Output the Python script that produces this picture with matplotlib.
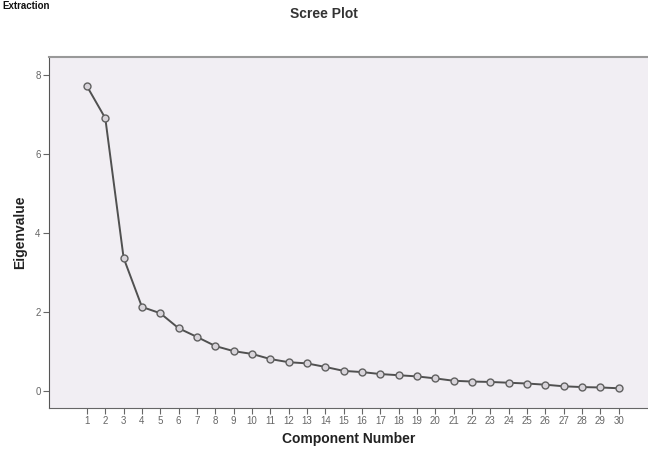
import numpy as np
import matplotlib.pyplot as plt

# eigenvalues
componentes = list(range(1, 31))
autovalores = [7.72, 6.91, 3.37, 2.13, 1.97, 1.59, 1.37, 1.14, 1.01, 0.94,
               0.81, 0.73, 0.70, 0.61, 0.51, 0.48, 0.43, 0.40, 0.37, 0.32,
               0.26, 0.24, 0.23, 0.21, 0.19, 0.16, 0.12, 0.10, 0.09, 0.07]
y_ticks = [0, 2, 4, 6, 8]

plt.rcParams["font.family"] = ["Liberation Sans", "DejaVu Sans"]

fig = plt.figure(figsize=(6.48, 4.54), dpi=100)
ax = fig.add_axes([49 / 648, 1 - 408 / 454, 1 - 49 / 648, (408 - 57) / 454])
ax.set_facecolor("#f1eef3")

ax.plot(
    componentes,
    autovalores,
    color="#505050",
    linewidth=1.4,
    marker="o",
    markersize=5,
    markerfacecolor="#d8d4da",
    markeredgecolor="#606060",
    markeredgewidth=1.0
)

ax.set_xlim(-1.07, 31.6)
ax.set_ylim(-0.43, 8.46)
ax.set_xticks(componentes)
ax.set_yticks(y_ticks)
ax.tick_params(axis="both", labelsize=7, colors="#666666",
               length=4, width=0.8, direction="out", pad=2)

ax.spines["right"].set_visible(False)
ax.spines["top"].set_color("#999999")
ax.spines["top"].set_linewidth(1.5)
ax.spines["left"].set_color("#555555")
ax.spines["bottom"].set_color("#666666")

ax.set_xlabel("Component Number", fontsize=10, fontweight="bold",
              color="#222222", labelpad=4)
ax.set_ylabel("Eigenvalue", fontsize=10, fontweight="bold",
              color="#222222", labelpad=6)

fig.text(0.5, 1 - 14 / 454, "Scree Plot", ha="center", va="center",
         fontsize=10, fontweight="bold", color="#333333")
fig.text(2 / 648, 1 - 1 / 454, "Extraction", ha="left", va="top",
         fontsize=7, fontweight="bold", color="#111111")

fig.savefig("out.png", dpi=100)
plt.close(fig)
